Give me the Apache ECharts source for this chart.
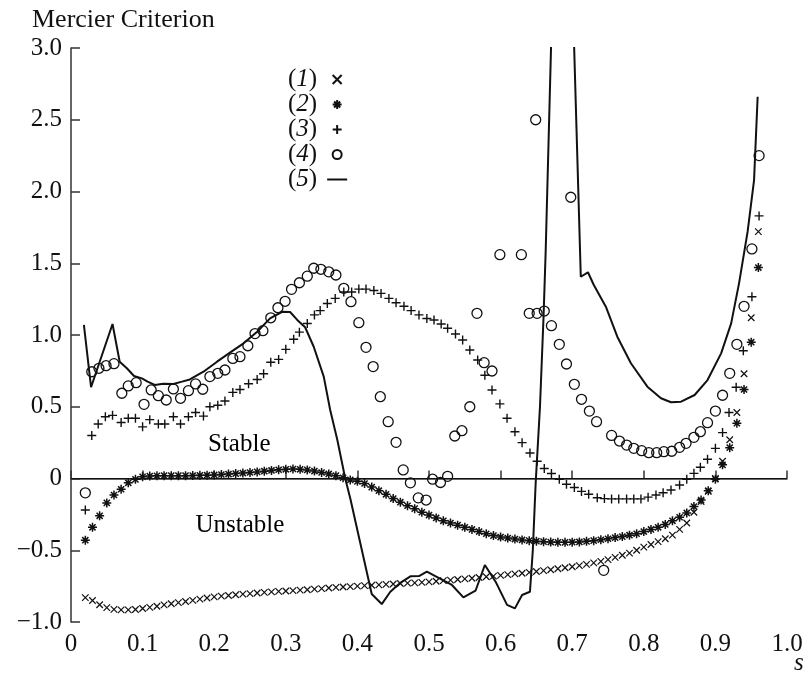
<!DOCTYPE html>
<html>
<head>
<meta charset="utf-8">
<script src="https://cdn.jsdelivr.net/npm/echarts@6/dist/echarts.min.js"></script>
<style>
html,body{margin:0;padding:0;background:#fff;}
#chart{width:809px;height:681px;}
</style>
</head>
<body>
<div id="chart"></div>
<script>
// s values shared by series (1) and (2)
var sGrid = [0.02,0.03,0.04,0.05,0.06,0.07,0.08,0.09,0.10,0.11,
	0.12,0.13,0.14,0.15,0.16,0.17,0.18,0.19,0.20,0.21,
	0.22,0.23,0.24,0.25,0.26,0.27,0.28,0.29,0.30,0.31,
	0.32,0.33,0.34,0.35,0.36,0.37,0.38,0.39,0.40,0.41,
	0.42,0.43,0.44,0.45,0.46,0.47,0.48,0.49,0.50,0.51,
	0.52,0.53,0.54,0.55,0.56,0.57,0.58,0.59,0.60,0.61,
	0.62,0.63,0.64,0.65,0.66,0.67,0.68,0.69,0.70,0.71,
	0.72,0.73,0.74,0.75,0.76,0.77,0.78,0.79,0.80,0.81,
	0.82,0.83,0.84,0.85,0.86,0.87,0.88,0.89,0.90,0.91,
	0.92,0.93,0.94,0.95,0.96];

var y1 = [-0.83,-0.85,-0.88,-0.90,-0.912,-0.916,-0.916,-0.913,-0.906,-0.898,
	-0.89,-0.881,-0.873,-0.865,-0.857,-0.849,-0.841,-0.833,-0.825,-0.82,
	-0.815,-0.81,-0.806,-0.802,-0.798,-0.794,-0.79,-0.787,-0.784,-0.781,
	-0.778,-0.775,-0.771,-0.767,-0.763,-0.759,-0.756,-0.753,-0.75,-0.747,
	-0.744,-0.741,-0.738,-0.735,-0.732,-0.729,-0.727,-0.724,-0.72,-0.716,
	-0.712,-0.708,-0.704,-0.70,-0.695,-0.69,-0.685,-0.68,-0.675,-0.67,
	-0.665,-0.66,-0.654,-0.648,-0.642,-0.636,-0.629,-0.622,-0.615,-0.607,
	-0.598,-0.588,-0.577,-0.565,-0.55,-0.535,-0.52,-0.50,-0.478,-0.46,
	-0.44,-0.42,-0.395,-0.355,-0.31,-0.235,-0.16,-0.09,0.0,0.12,
	0.27,0.46,0.73,1.12,1.72];

var y2 = [-0.43,-0.34,-0.26,-0.17,-0.115,-0.075,-0.03,-0.006,0.012,0.017,
	0.019,0.02,0.02,0.02,0.02,0.021,0.022,0.023,0.025,0.028,
	0.031,0.034,0.038,0.042,0.046,0.051,0.056,0.061,0.064,0.066,
	0.064,0.06,0.052,0.042,0.032,0.02,0.005,-0.01,-0.02,-0.035,
	-0.06,-0.085,-0.11,-0.14,-0.165,-0.19,-0.21,-0.235,-0.255,-0.275,
	-0.295,-0.31,-0.325,-0.34,-0.355,-0.37,-0.385,-0.398,-0.408,-0.415,
	-0.422,-0.428,-0.433,-0.437,-0.44,-0.443,-0.445,-0.445,-0.444,-0.442,
	-0.438,-0.433,-0.427,-0.42,-0.412,-0.405,-0.395,-0.385,-0.37,-0.355,
	-0.34,-0.32,-0.295,-0.27,-0.24,-0.195,-0.15,-0.085,-0.005,0.095,
	0.215,0.385,0.62,0.95,1.47];

// series (3)
var x3 = [0.020,0.029,0.038,0.048,0.058,0.070,0.080,0.090,0.100,0.110,
	0.122,0.131,0.143,0.153,0.164,0.174,0.185,0.194,0.205,0.215,
	0.226,0.236,0.248,0.260,0.269,0.279,0.290,0.300,0.311,0.319,
	0.330,0.340,0.348,0.358,0.369,0.381,0.392,0.402,0.412,0.423,
	0.433,0.444,0.454,0.465,0.475,0.486,0.497,0.507,0.517,0.526,
	0.537,0.547,0.557,0.568,0.578,0.588,0.599,0.609,0.620,0.630,
	0.641,0.651,0.661,0.671,0.682,0.692,0.703,0.713,0.723,0.735,
	0.745,0.755,0.765,0.776,0.786,0.796,0.806,0.817,0.827,0.838,
	0.850,0.860,0.870,0.879,0.889,0.900,0.910,0.919,0.929,0.939,
	0.951,0.961];
var y3 = [-0.22,0.30,0.38,0.43,0.44,0.39,0.42,0.42,0.36,0.41,
	0.38,0.38,0.43,0.38,0.43,0.46,0.435,0.50,0.51,0.54,
	0.60,0.62,0.66,0.69,0.73,0.81,0.83,0.90,0.97,1.02,
	1.08,1.14,1.17,1.22,1.255,1.30,1.30,1.32,1.32,1.31,
	1.29,1.255,1.225,1.20,1.17,1.14,1.115,1.105,1.077,1.047,
	1.007,0.965,0.895,0.826,0.72,0.617,0.52,0.42,0.326,0.25,
	0.178,0.12,0.07,0.035,-0.005,-0.04,-0.063,-0.09,-0.11,-0.134,
	-0.14,-0.142,-0.142,-0.142,-0.142,-0.142,-0.13,-0.115,-0.099,-0.08,
	-0.045,-0.006,0.036,0.078,0.134,0.21,0.32,0.46,0.636,0.89,
	1.267,1.83];

// series (4)
var x4 = [0.020,0.029,0.039,0.049,0.060,0.071,0.080,0.091,0.102,0.112,
	0.122,0.133,0.143,0.153,0.164,0.174,0.184,0.194,0.205,0.215,
	0.226,0.236,0.247,0.257,0.268,0.279,0.289,0.299,0.308,0.319,
	0.330,0.339,0.349,0.360,0.370,0.381,0.391,0.402,0.412,0.422,
	0.432,0.443,0.454,0.464,0.474,0.485,0.496,0.505,0.516,0.526,
	0.536,0.546,0.557,0.567,0.577,0.588,0.599,0.649,0.698,0.629,
	0.640,0.651,0.661,0.671,0.682,0.692,0.703,0.713,0.724,0.734,
	0.744,0.755,0.766,0.776,0.786,0.797,0.807,0.818,0.828,0.839,
	0.850,0.859,0.870,0.879,0.889,0.900,0.910,0.920,0.930,0.940,
	0.951,0.961];
var y4 = [-0.10,0.744,0.768,0.786,0.80,0.594,0.645,0.668,0.517,0.617,
	0.577,0.547,0.624,0.559,0.612,0.659,0.622,0.71,0.733,0.756,
	0.837,0.849,0.925,1.01,1.03,1.12,1.19,1.235,1.318,1.364,
	1.41,1.465,1.458,1.44,1.418,1.325,1.232,1.086,0.914,0.78,
	0.57,0.396,0.252,0.06,-0.03,-0.135,-0.15,-0.005,-0.028,0.015,
	0.296,0.333,0.50,1.151,0.807,0.749,1.56,2.50,1.96,1.56,
	1.151,1.151,1.167,1.065,0.935,0.798,0.656,0.552,0.47,0.396,
	-0.64,0.30,0.261,0.233,0.21,0.194,0.18,0.18,0.187,0.19,
	0.217,0.245,0.287,0.326,0.389,0.47,0.58,0.733,0.935,1.20,
	1.60,2.25];

// series (5), solid line
var x5 = [0.018,0.028,0.058,0.068,0.078,0.088,0.099,0.107,0.117,0.129,
	0.143,0.155,0.166,0.185,0.204,0.222,0.241,0.260,0.278,0.295,
	0.306,0.316,0.327,0.339,0.353,0.362,0.372,0.383,0.390,0.404,
	0.420,0.434,0.446,0.460,0.474,0.486,0.497,0.520,0.532,0.548,
	0.565,0.578,0.593,0.609,0.620,0.630,0.641,0.645,0.649,0.655,
	0.660,0.663,0.672,0.687,0.701,0.712,0.722,0.730,0.747,0.763,
	0.782,0.805,0.824,0.838,0.852,0.871,0.889,0.908,0.922,0.933,
	0.945,0.954,0.959];
var y5 = [1.07,0.636,1.077,0.814,0.768,0.714,0.698,0.675,0.652,0.66,
	0.659,0.675,0.69,0.744,0.814,0.877,0.942,1.023,1.116,1.162,
	1.16,1.105,1.054,0.918,0.71,0.477,0.268,0.0,-0.138,-0.45,
	-0.805,-0.875,-0.789,-0.727,-0.682,-0.68,-0.649,-0.71,-0.742,-0.828,
	-0.782,-0.603,-0.719,-0.881,-0.905,-0.812,-0.789,-0.5,-0.03,0.5,
	1.13,1.59,3.3,3.6,3.3,1.406,1.437,1.35,1.197,0.988,
	0.803,0.64,0.559,0.531,0.535,0.582,0.686,0.872,1.081,1.36,
	1.72,2.08,2.66];

var regionLabels = ['Stable', 'Unstable'];
var regionPos = [[0.235, 0.24], [0.236, -0.33]];

function pairs(xs, ys){
	var out = [];
	for (var i = 0; i < xs.length; i++) out.push([xs[i], ys[i]]);
	return out;
}

var FONT = 'Liberation Serif';
var INK = '#111';
var crossPath = 'path://M0,0L10,10M10,0L0,10';
var plusPath = 'path://M5,0L5,10M0,5L10,5';
var starPath = 'path://M5,0L5,10M0,5L10,5M1.6,1.6L8.4,8.4M8.4,1.6L1.6,8.4';
var dashPath = 'path://M0,0L20,0L20,2L0,2Z';

var chart = echarts.init(document.getElementById('chart'));

function markerStyle(w){
	return {color: 'transparent', borderColor: INK, borderWidth: w, opacity: 1};
}

var option = {
	animation: false,
	backgroundColor: '#fff',
	title: [
		{text: 'Mercier Criterion', left: 27, top: 2,
			textStyle: {fontFamily: FONT, fontSize: 26, fontWeight: 'normal', color: INK}},
		{text: 's', left: 789, top: 646,
			textStyle: {fontFamily: FONT, fontSize: 25, fontWeight: 'normal', fontStyle: 'italic', color: INK}}
	],
	legend: {
		data: ['1', '2', '3', '4', {name: '5', icon: dashPath}],
		orient: 'vertical',
		align: 'right',
		left: 283,
		top: 62,
		itemGap: 0,
		itemWidth: 20,
		itemHeight: 9,
		formatter: function(name){ return '{p|(}{i|' + name + '}{p|)}{s| }'; },
		textStyle: {
			color: INK,
			rich: {
				p: {fontFamily: FONT, fontSize: 25, lineHeight: 27, color: INK},
				i: {fontFamily: FONT, fontSize: 25, lineHeight: 27, fontStyle: 'italic', color: INK},
				s: {fontFamily: FONT, fontSize: 25, lineHeight: 27, width: 5}
			}
		}
	},
	grid: {left: 71, right: 22, top: 48, bottom: 59},
	xAxis: {
		type: 'value', min: 0, max: 1, interval: 0.1,
		axisLine: {lineStyle: {color: '#333', width: 1.5}},
		axisTick: {inside: true, length: 8, lineStyle: {color: '#333', width: 1.5}},
		splitLine: {show: false},
		axisLabel: {
			fontFamily: FONT, fontSize: 25, color: INK, margin: 10,
			formatter: function(v){ return v === 0 ? '0' : v.toFixed(1); }
		}
	},
	yAxis: {
		type: 'value', min: -1, max: 3, interval: 0.5,
		axisLine: {lineStyle: {color: '#333', width: 1.5}},
		axisTick: {inside: true, length: 9, lineStyle: {color: '#333', width: 1.5}},
		splitLine: {show: false},
		axisLabel: {
			fontFamily: FONT, fontSize: 25, color: INK, margin: 9,
			formatter: function(v){
				if (v === 0) return '0';
				return (v < 0 ? '\u2212' : '') + Math.abs(v).toFixed(1);
			}
		}
	},
	series: [
		{name: '1', type: 'scatter', data: pairs(sGrid, y1), symbol: crossPath,
			symbolSize: 6.5, symbolKeepAspect: true, itemStyle: markerStyle(1.2)},
		{name: '2', type: 'scatter', data: pairs(sGrid, y2), symbol: starPath,
			symbolSize: 9, symbolKeepAspect: true,
			itemStyle: {color: INK, borderColor: INK, borderWidth: 1.5, opacity: 1}},
		{name: '3', type: 'scatter', data: pairs(x3, y3), symbol: plusPath,
			symbolSize: 9, symbolKeepAspect: true, itemStyle: markerStyle(1.4)},
		{name: '4', type: 'scatter', data: pairs(x4, y4), symbol: 'circle',
			symbolSize: 10, itemStyle: markerStyle(1.3)},
		{name: '5', type: 'line', data: pairs(x5, y5), showSymbol: false, symbol: 'none',
			clip: true, lineStyle: {color: INK, width: 2}, itemStyle: {color: INK},
			markLine: {silent: true, symbol: 'none', label: {show: false},
				lineStyle: {color: INK, width: 1, type: 'solid'},
				data: [{yAxis: 0}]}},
		{name: 'regions', type: 'scatter', symbolSize: 0, silent: true,
			itemStyle: {opacity: 1},
			data: regionPos.map(function(p, i){ return {value: p, name: regionLabels[i]}; }),
			label: {show: true, position: 'inside', formatter: '{b}',
				fontFamily: FONT, fontSize: 25, color: '#000', opacity: 1}}
	]
};

chart.setOption(option);
</script>
</body>
</html>
